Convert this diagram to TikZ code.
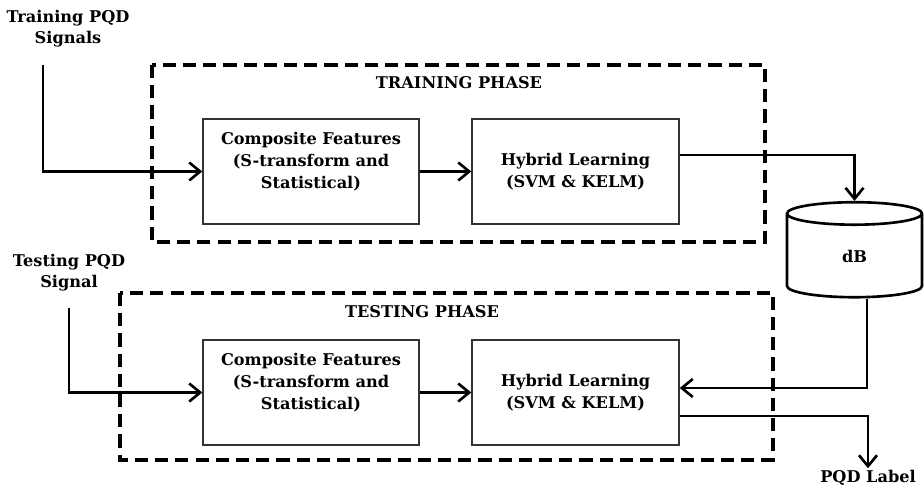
\documentclass[tikz,border=0pt]{standalone}
\usepackage{fontspec}
\setmainfont{DejaVu Serif}
\usepackage{tikz}
\usetikzlibrary{shapes.geometric, arrows.meta, positioning, calc}
\tikzset{
  pqd box/.style={
    rectangle, draw=black!80, line width=0.8pt, fill=white,
    minimum height=2.1cm, align=center,
    font=\bfseries\fontsize{9.2}{12.5}\selectfont, inner sep=2pt
  },
  pqd frame/.style={
    draw=black, line width=1.8pt, dash pattern=on 7.5pt off 4pt
  },
  pqd arrow/.style={
    -{Straight Barb[length=2.2mm,width=3.6mm]}, line width=1.5pt, draw=black
  },
  pqd label/.style={
    font=\bfseries\fontsize{9.2}{12}\selectfont, align=center, inner sep=1pt
  },
  pqd store/.style={
    cylinder, shape border rotate=90, draw=black, line width=1.5pt,
    aspect=0.9, minimum width=2.7cm, minimum height=1.9cm,
    font=\bfseries\fontsize{9.2}{12}\selectfont, inner sep=0pt
  }
}

\begin{document}
\begin{tikzpicture}
\useasboundingbox (0,0) rectangle (18.48,-9.76);

% ====== TRAINING PHASE ======
\draw[pqd frame] (3.04,-1.3) rectangle (15.3,-4.84);
\node[pqd label] (trhead) at (9.18,-1.66) {TRAINING PHASE};
\node[pqd label] (trin) at (1.36,-0.58) {Training PQD\\Signals};
\coordinate (trstart) at (0.86,-1.3);
\node[pqd box, minimum width=4.32cm] (trfeat) at (6.22,-3.43)
  {Composite Features\\(S-transform and\\Statistical)\\ };
\node[pqd box, minimum width=4.14cm] (trlearn) at (11.51,-3.43)
  {Hybrid Learning\\(SVM \& KELM)};

% -- database --
\node[pqd store] (db) at (17.09,-5.12) {dB};

% ====== TESTING PHASE ======
\draw[pqd frame] (2.4,-5.86) rectangle (15.46,-9.2);
\node[pqd label] (tehead) at (8.44,-6.24) {TESTING PHASE};
\node[pqd label] (tein) at (1.38,-5.46) {Testing PQD\\Signal};
\coordinate (testart) at (1.38,-6.16);
\node[pqd box, minimum width=4.32cm] (tefeat) at (6.22,-7.85)
  {Composite Features\\(S-transform and\\Statistical)\\ };
\node[pqd box, minimum width=4.14cm] (telearn) at (11.51,-7.85)
  {Hybrid Learning\\(SVM \& KELM)};
\node[pqd label] (out) at (17.36,-9.56) {PQD Label};

% -- connectors --
\draw[pqd arrow] (trstart) |- (trfeat.west);
\draw[pqd arrow] (trfeat) -- (trlearn);
\draw[pqd arrow] ($(trlearn.east)+(0,0.33)$) -| (db.top);
\draw[pqd arrow] (testart) |- (tefeat.west);
\draw[pqd arrow] (tefeat) -- (telearn);
\draw[pqd arrow] ($(db.bottom)+(0.25,0)$) |- ($(telearn.east)+(0,0.09)$);
\draw[pqd arrow] ($(telearn.east)+(0,-0.47)$) -| (out.north);

\end{tikzpicture}
\end{document}
